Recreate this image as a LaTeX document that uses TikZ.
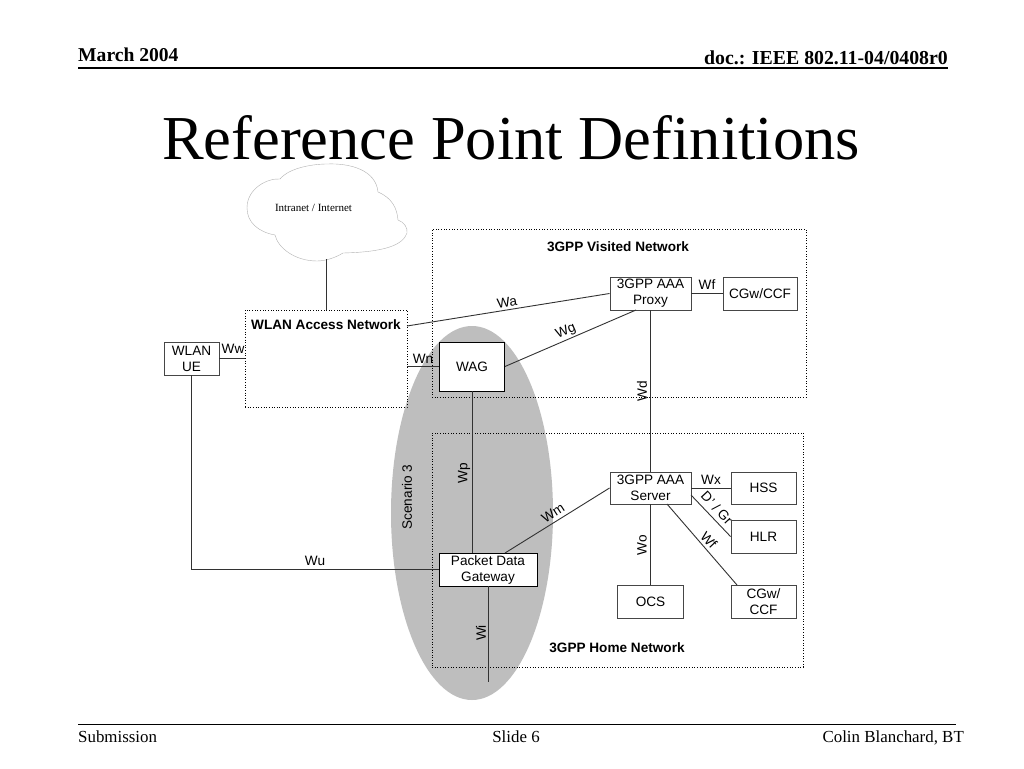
\documentclass[tikz,border=0pt]{standalone}
\usepackage{fontspec}
\setmainfont{Liberation Serif}
\setsansfont{Liberation Sans}
\usetikzlibrary{calc,positioning}
\definecolor{scenarioGray}{RGB}{190,190,190}
\definecolor{linkGray}{RGB}{50,50,50}
\definecolor{boxGray}{RGB}{70,70,70}
\newcommand{\diagfont}{\sffamily\fontsize{13.6}{16}\selectfont}
\tikzset{
  netBox/.style={draw=boxGray,fill=white,line width=0.95pt,align=center,inner sep=0pt,font=\diagfont},
  zoneBox/.style={draw=black,dotted,line width=0.65pt,inner sep=0pt},
  zoneLabel/.style={font=\diagfont\bfseries,inner sep=0pt},
  linkLabel/.style={font=\diagfont,inner sep=0pt},
  linkLine/.style={draw=linkGray,line width=0.9pt},
  ruleLine/.style={draw=black,line width=1.3pt}
}
\begin{document}
\begin{tikzpicture}[x=1pt,y=-1pt]
  \useasboundingbox (0,0) rectangle (1024,768);
  \fill[white](0,0) rectangle (1024,768);
  \fill[scenarioGray](472,513) ellipse[x radius=81,y radius=187];
  \node[zoneBox,minimum width=374pt,minimum height=168pt] (visitedNet) at (619,313){};
  \node[zoneBox,minimum width=371pt,minimum height=234pt] (homeNet) at (617.5,550){};
  \node[zoneBox,minimum width=162pt,minimum height=97pt] (wlanNet) at (326,358.5){};
  \node[zoneLabel] (visitedLbl) at (618,247){3GPP Visited Network};
  \node[zoneLabel] (homeLbl) at (617,648){3GPP Home Network};
  \node[zoneLabel] (wlanLbl) at (326,325){WLAN Access Network};
  % cloud
  \draw[draw=gray!60,line width=0.4pt,fill=white](247,208)
    .. controls (247,188) and (268,178) .. (280,179)
    .. controls (290,167) and (315,164) .. (327,164)
    .. controls (350,163) and (376,170) .. (378,192)
    .. controls (392,198) and (397,208) .. (398,220)
    .. controls (404,222) and (408,228) .. (407,233)
    .. controls (403,245) and (385,252) .. (343,253)
    .. controls (335,258) and (325,261) .. (317,261)
    .. controls (295,261) and (278,248) .. (275,235)
    .. controls (258,232) and (247,222) .. (247,208);
  \node[font=\rmfamily\fontsize{11}{13}\selectfont,inner sep=0pt] (cloudLbl) at (313.5,208){Intranet / Internet};
  \coordinate (cloudFoot) at (326,259);
  \coordinate (waStart) at (407,326);
  \coordinate (wgEnd) at (636,310);
  \coordinate (wmStart) at (505,553);
  \coordinate (wfStart) at (667,504);
  \coordinate (wfEnd) at (737,585);
  \coordinate (grStart) at (691,495);
  \coordinate (wiEnd) at (488,682);
  \node[netBox,minimum width=55pt,minimum height=33pt] (wlanUe) at (191.5,358.5){WLAN\\UE};
  \node[netBox,draw=black,minimum width=65pt,minimum height=49pt] (wagBox) at (472,366.5){WAG};
  \node[netBox,minimum width=81pt,minimum height=33pt] (aaaProxy) at (650.5,293.5){3GPP AAA\\Proxy};
  \node[netBox,minimum width=74pt,minimum height=33pt] (cgwTop) at (760,293.5){CGw/CCF};
  \node[netBox,minimum width=81pt,minimum height=32pt] (aaaServer) at (650.5,488){3GPP AAA\\Server};
  \node[netBox,minimum width=65pt,minimum height=32pt] (hssBox) at (763.5,488){HSS};
  \node[linkLabel,rotate=-47] (grLbl) at (717,508){D' / Gr};
  \node[netBox,minimum width=65pt,minimum height=33pt] (hlrBox) at (763.5,536.5){HLR};
  \node[netBox,minimum width=65pt,minimum height=33pt] (cgwLow) at (763.5,601.5){CGw/\\CCF};
  \node[netBox,minimum width=66pt,minimum height=33pt] (ocsBox) at (650.5,601.5){OCS};
  \node[netBox,draw=black,minimum width=98pt,minimum height=33pt] (pdgBox) at (488,569.5){Packet Data\\Gateway};
  \draw[linkLine](wlanUe.south) |- (pdgBox.west);
  \foreach \a/\b in {cloudFoot/wlanNet.north,waStart/aaaProxy.west,wagBox.east/wgEnd,
                     aaaProxy.east/cgwTop.west,aaaProxy.south/aaaServer.north,
                     wmStart/aaaServer.west,pdgBox.south/wiEnd,aaaServer.east/hssBox.west,
                     grStart/hlrBox.west,wfStart/wfEnd,aaaServer.south/ocsBox.north}{
    \draw[linkLine](\a) -- (\b);
  }
  \draw[linkLine](wlanUe.east) -- (wlanUe.east -| wlanNet.west);
  \draw[linkLine](wagBox.west -| wlanNet.east) -- (wagBox.west);
  \draw[linkLine](wagBox.south) -- (wagBox.south |- pdgBox.north);
  \foreach \n/\x/\y/\r/\t in {ww/233/349/0/Ww,wn/423/359/0/Wn,wa/507/302/9/Wa,wg/566/332/23/Wg,
                              wfTop/707/285/0/Wf,wd/642/391/90/Wd,wp/464/473/90/Wp,
                              wm/553/513/33/Wm,wu/315/561/0/Wu,wx/711/480/0/Wx,
                              wfLow/709/540/-47/Wf,wo/642/545/90/Wo,wi/481/633/90/Wi,
                              scenario/407/497/90/Scenario 3}{
    \node[linkLabel,rotate=\r] (\n Lbl) at (\x,\y){\t};
  }
  \node[font=\rmfamily\bfseries\fontsize{19.6}{22}\selectfont,inner sep=0pt,anchor=base west] (dateLbl) at (78,61.5){March 2004};
  \node[font=\rmfamily\bfseries\fontsize{19.8}{22}\selectfont,inner sep=0pt,anchor=base east] (docLbl) at (948,64){doc.: IEEE 802.11-04/0408r0};
  \coordinate (topRuleL) at (78,68);
  \coordinate (topRuleR) at (948,68);
  \draw[ruleLine](topRuleL) -- (topRuleR);
  \node[font=\rmfamily\fontsize{62.5}{70}\selectfont,inner sep=0pt,anchor=base] (titleLbl) at (511,159){Reference Point Definitions};
  \coordinate (lowRuleL) at (78,724.5);
  \coordinate (lowRuleR) at (956,724.5);
  \draw[ruleLine](lowRuleL) -- (lowRuleR);
  \node[font=\rmfamily\fontsize{16.9}{20}\selectfont,inner sep=0pt,anchor=base west] (subLbl) at (78,742){Submission};
  \node[font=\rmfamily\fontsize{16.9}{20}\selectfont,inner sep=0pt,anchor=base] (slideLbl) at (516,742){Slide 6};
  \node[font=\rmfamily\fontsize{16.9}{20}\selectfont,inner sep=0pt,anchor=base east] (authorLbl) at (964,742){Colin Blanchard, BT};
\end{tikzpicture}
\end{document}
